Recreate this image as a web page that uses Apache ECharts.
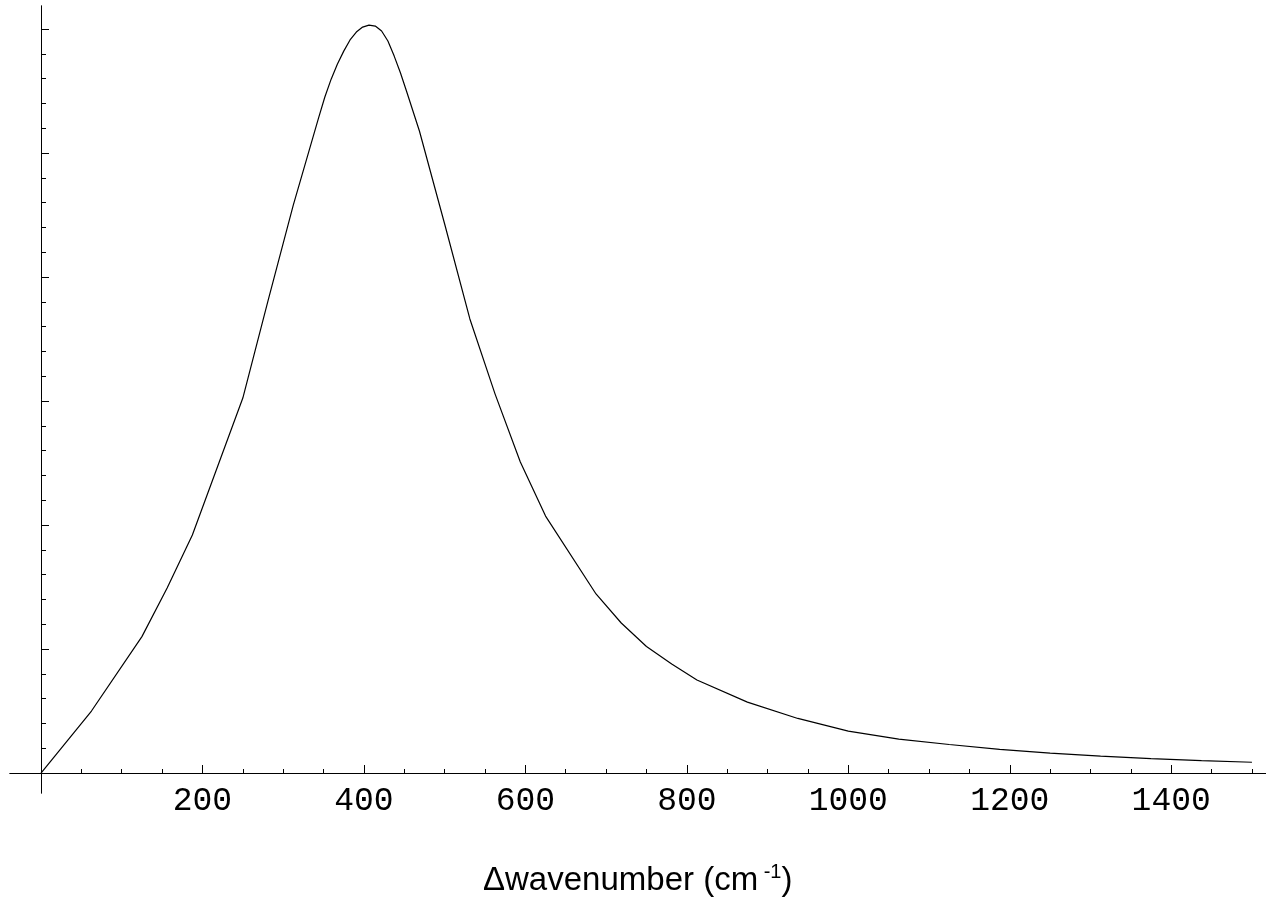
<!DOCTYPE html>
<html>
<head>
<meta charset="utf-8">
<script src="https://cdn.jsdelivr.net/npm/echarts@6/dist/echarts.min.js"></script>
<style>
  html, body { margin: 0; padding: 0; background: #fff; }
  #chart { width: 1266px; height: 905px; }
</style>
</head>
<body>
<div id="chart"></div>
<script>
// curve samples (y in arbitrary intensity units, no scale shown)
const wavenumber = [0, 62.5, 125, 156.25, 187.5, 250, 281.25, 312.5, 343.75, 351.6, 359.4, 367.2, 375, 382.8, 390.6, 398.4, 406.25, 414.1, 421.9, 429.7, 437.5, 445.3, 453.1, 468.75, 500, 531.25, 562.5, 593.75, 625, 687.5, 718.75, 750, 781.25, 812.5, 875, 937.5, 1000, 1062.5, 1125, 1187.5, 1250, 1312.5, 1375, 1437.5, 1500];
const intensity = [0, 0.250, 0.550, 0.746, 0.960, 1.512, 1.905, 2.290, 2.641, 2.726, 2.798, 2.859, 2.911, 2.956, 2.988, 3.008, 3.016, 3.012, 2.992, 2.952, 2.891, 2.823, 2.746, 2.589, 2.214, 1.831, 1.528, 1.254, 1.036, 0.722, 0.605, 0.510, 0.440, 0.375, 0.286, 0.220, 0.169, 0.137, 0.115, 0.095, 0.080, 0.068, 0.058, 0.050, 0.0435];

const xMajorTicks = [200, 400, 600, 800, 1000, 1200, 1400];
const xMinorTicks = [50, 100, 150, 250, 300, 350, 450, 500, 550, 650, 700, 750, 850, 900, 950, 1050, 1100, 1150, 1250, 1300, 1350, 1450, 1500];
const yMajorTicks = [0.5, 1, 1.5, 2, 2.5, 3];
const yMinorTicks = [0.1, 0.2, 0.3, 0.4, 0.6, 0.7, 0.8, 0.9, 1.1, 1.2, 1.3, 1.4, 1.6, 1.7, 1.8, 1.9, 2.1, 2.2, 2.3, 2.4, 2.6, 2.7, 2.8, 2.9];

const X_MIN = -38.4, X_MAX = 1517.4;
const Y_MIN = -0.0806, Y_MAX = 3.093;
const BLACK = "#000";

function xAxis(ticks, len, labels) {
  return {
    type: "value", min: X_MIN, max: X_MAX, position: "bottom",
    axisLine: { onZero: true, onZeroAxisIndex: 0, lineStyle: { color: BLACK, width: 1 } },
    axisTick: { show: true, inside: true, length: len, customValues: ticks, lineStyle: { color: BLACK, width: 1 } },
    axisLabel: labels
      ? { show: true, customValues: ticks, margin: -8, color: BLACK, fontFamily: "Liberation Mono", fontSize: 33, formatter: (v) => String(v) }
      : { show: false },
    splitLine: { show: false },
  };
}

function yAxis(ticks, len) {
  return {
    type: "value", min: Y_MIN, max: Y_MAX, position: "left",
    axisLine: { onZero: true, onZeroAxisIndex: 0, lineStyle: { color: BLACK, width: 1 } },
    axisTick: { show: true, inside: true, length: len, customValues: ticks, lineStyle: { color: BLACK, width: 1 } },
    axisLabel: { show: false },
    splitLine: { show: false },
  };
}

const chart = echarts.init(document.getElementById("chart"), null, { renderer: "canvas" });
chart.setOption({
  animation: false,
  backgroundColor: "#fff",
  title: {
    text: "{a|Δwavenumber (cm}{b| -1}{a|)}",
    left: 478,
    top: 857,
    textStyle: {
      fontWeight: "normal",
      rich: {
        a: { fontFamily: "Liberation Sans", fontWeight: "normal", fontSize: 33, color: BLACK, lineHeight: 38 },
        b: { fontFamily: "Liberation Sans", fontWeight: "normal", fontSize: 20, color: BLACK, lineHeight: 20, verticalAlign: "top" },
      },
    },
  },
  grid: { left: 10, right: 0, top: 6, bottom: 112, containLabel: false, outerBoundsMode: "none" },
  xAxis: [xAxis(xMajorTicks, 8, true), xAxis(xMinorTicks, 4, false)],
  yAxis: [yAxis(yMajorTicks, 8), yAxis(yMinorTicks, 5)],
  series: [{
    type: "line",
    xAxisIndex: 0,
    yAxisIndex: 0,
    data: wavenumber.map((x, i) => [x, intensity[i]]),
    showSymbol: false,
    smooth: false,
    lineStyle: { color: BLACK, width: 1.2 },
  }],
});
</script>
</body>
</html>
